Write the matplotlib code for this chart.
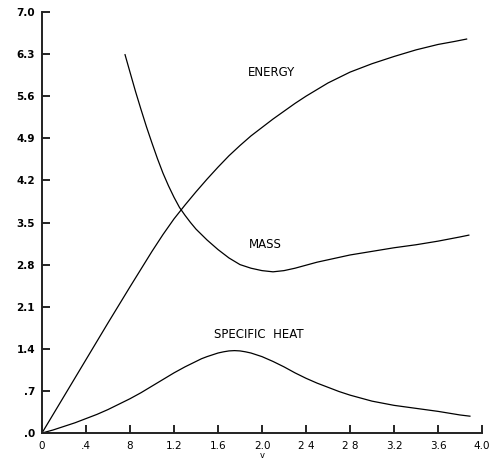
import numpy as np
import matplotlib
matplotlib.use("Agg")
import matplotlib.pyplot as plt

# energy, mass and specific heat vs. the x parameter
energia_x = [0, 0.2, 0.4, 0.6, 0.8, 1.0, 1.1, 1.2, 1.3, 1.4, 1.5, 1.6, 1.7, 1.8, 1.9, 2.0,
             2.1, 2.2, 2.3, 2.4, 2.5, 2.6, 2.7, 2.8, 2.9, 3.0, 3.2, 3.4, 3.6, 3.75, 3.86]
energia_y = [0, 0.61, 1.22, 1.83, 2.43, 3.02, 3.30, 3.56, 3.79, 4.01, 4.22, 4.42, 4.61, 4.78, 4.94, 5.08,
             5.22, 5.35, 5.48, 5.60, 5.71, 5.82, 5.91, 6.00, 6.07, 6.14, 6.26, 6.37, 6.46, 6.51, 6.55]

masa_x = [0.755, 0.8, 0.85, 0.9, 0.95, 1.0, 1.05, 1.1, 1.15, 1.2, 1.25, 1.3, 1.35, 1.4, 1.5, 1.6, 1.7,
          1.8, 1.9, 2.0, 2.1, 2.2, 2.3, 2.4, 2.5, 2.6, 2.7, 2.8, 2.9, 3.0, 3.2, 3.4, 3.6, 3.8, 3.88]
masa_y = [6.29, 6.00, 5.68, 5.38, 5.09, 4.82, 4.56, 4.32, 4.11, 3.92, 3.75, 3.62, 3.50, 3.39, 3.21, 3.05, 2.91,
          2.80, 2.74, 2.70, 2.68, 2.70, 2.74, 2.79, 2.84, 2.88, 2.92, 2.96, 2.99, 3.02, 3.08, 3.13, 3.19, 3.26, 3.29]

calor_x = [0, 0.1, 0.2, 0.3, 0.4, 0.5, 0.6, 0.7, 0.8, 0.9, 1.0, 1.1, 1.2, 1.3, 1.4, 1.45, 1.5, 1.55, 1.6, 1.65,
           1.7, 1.75, 1.8, 1.85, 1.9, 2.0, 2.1, 2.2, 2.3, 2.4, 2.5, 2.6, 2.7, 2.8, 2.9, 3.0, 3.2, 3.4, 3.6, 3.8, 3.89]
calor_y = [0, 0.05, 0.11, 0.17, 0.24, 0.31, 0.39, 0.48, 0.57, 0.67, 0.78, 0.89, 1.00, 1.10, 1.19, 1.235, 1.27, 1.30,
           1.33, 1.35, 1.365, 1.37, 1.365, 1.35, 1.33, 1.27, 1.19, 1.10, 1.00, 0.91, 0.83, 0.76, 0.69, 0.63, 0.58,
           0.53, 0.46, 0.41, 0.36, 0.30, 0.28]

xticks = [0, 0.4, 0.8, 1.2, 1.6, 2.0, 2.4, 2.8, 3.2, 3.6, 4.0]
xlabels = ["0", ".4", "8", "1.2", "1.6", "2.0", "2 4", "2 8", "3.2", "3.6", "4.0"]
yticks = [0, 0.7, 1.4, 2.1, 2.8, 3.5, 4.2, 4.9, 5.6, 6.3, 7.0]
ylabels = [".0", ".7", "1.4", "2.1", "2.8", "3.5", "4.2", "4.9", "5.6", "6.3", "7.0"]

fig = plt.figure(figsize=(4.95, 4.59), dpi=100)
fig.patch.set_facecolor('white')
ax1 = fig.add_axes([0.0848, 0.0566, 0.889, 0.9173])

ax1.plot(energia_x, energia_y, color='black', lw=0.9)
ax1.plot(masa_x, masa_y, color='black', lw=0.9)
ax1.plot(calor_x, calor_y, color='black', lw=0.9)

ax1.text(2.09, 6.0, "ENERGY", fontsize=8.5, ha='center', va='center')
ax1.text(2.03, 3.13, "MASS", fontsize=8.5, ha='center', va='center')
ax1.text(1.97, 1.64, "SPECIFIC  HEAT", fontsize=8.5, ha='center', va='center')

ax1.set_xlim(0, 4.0)
ax1.set_ylim(0, 7.0)
ax1.set_xticks(xticks)
ax1.set_xticklabels(xlabels)
ax1.set_yticks(yticks)
ax1.set_yticklabels(ylabels, fontweight='bold')
ax1.tick_params(direction='in', length=6, width=1.2, labelsize=7.5, pad=5)
ax1.tick_params(axis='x', pad=6)

for lado in ['top', 'right']:
    ax1.spines[lado].set_visible(False)
for lado in ['left', 'bottom']:
    ax1.spines[lado].set_linewidth(1.4)
    ax1.spines[lado].set_color('#222222')

ax1.text(2.0, -0.375, "v", fontsize=6, ha='center', va='center', clip_on=False)

fig.savefig("out.png", dpi=100, facecolor='white')
